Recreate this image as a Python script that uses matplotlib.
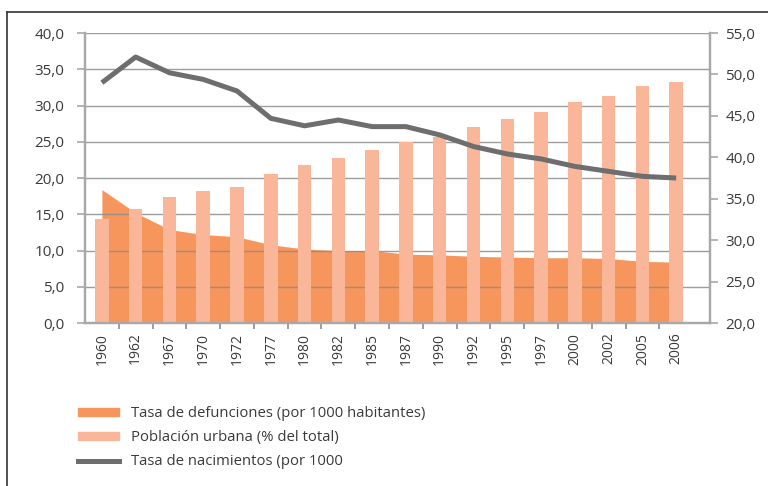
import matplotlib
matplotlib.use("Agg")
import matplotlib.pyplot as plt
from matplotlib.lines import Line2D
from matplotlib.patches import Patch
import numpy as np

plt.rcParams["font.family"] = ["Open Sans", "DejaVu Sans"]

years = ["1960", "1962", "1967", "1970", "1972", "1977", "1980", "1982", "1985",
         "1987", "1990", "1992", "1995", "1997", "2000", "2002", "2005", "2006"]
death_rate = [18.4, 15.2, 12.9, 12.2, 11.9, 10.8, 10.2, 10.0, 10.0,
              9.5, 9.4, 9.2, 9.1, 9.0, 9.0, 8.9, 8.5, 8.4]
urban_pct = [14.4, 15.7, 17.4, 18.2, 18.8, 20.6, 21.8, 22.7, 23.9,
             25.0, 25.7, 27.0, 28.2, 29.1, 30.5, 31.3, 32.7, 33.3]
birth_rate = [49.0, 52.1, 50.2, 49.4, 48.0, 44.7, 43.8, 44.5, 43.7,
              43.7, 42.7, 41.3, 40.4, 39.8, 38.9, 38.3, 37.7, 37.5]

lbl_death = "Tasa de defunciones (por 1000 habitantes)"
lbl_urban = "Población urbana (% del total)"
lbl_birth = "Tasa de nacimientos (por 1000"

c_area = "#F7965C"
c_bar = "#F9B698"
c_line = "#6E6E6E"
c_axis = "#A8A8A8"
c_grid = "#8C8C8C"
c_text = "#3A3A3A"

x = np.arange(len(years))

fig = plt.figure(figsize=(7.68, 4.86), dpi=100)
ax = fig.add_axes([85 / 768, 1 - 323 / 486, (710 - 85) / 768, (323 - 33) / 486])
ax2 = ax.twinx()

ax.fill_between(x, death_rate, 0, color=c_area, linewidth=0, zorder=1)
ax.bar(x, urban_pct, width=0.4, color=c_bar, linewidth=0, zorder=3)
ax.set_ylim(0, 40)
ax.set_xlim(-0.5, len(years))
ax.set_yticks(np.arange(0, 41, 5))
ax.set_yticklabels([f"{v:.1f}".replace(".", ",") for v in np.arange(0, 41, 5)])
ax.grid(axis="y", color=c_grid, linewidth=1.0, alpha=0.85, zorder=4)
ax.set_axisbelow(False)

ax.set_xticks(x)
ax.set_xticklabels(years, rotation=90, fontsize=10, color=c_text)
ax.set_xticks(x[:-1] + 0.5, minor=True)
ax.tick_params(axis="x", which="major", length=0, pad=7)
ax.tick_params(axis="x", which="minor", length=4, color=c_grid, width=1.2)
ax.tick_params(axis="y", length=6, color=c_axis, width=1.2, labelsize=11,
               labelcolor=c_text, pad=9)

ax2.plot(x, birth_rate, color=c_line, linewidth=3.6, solid_capstyle="butt",
         solid_joinstyle="round", zorder=5)
ax2.set_ylim(20, 55)
ax2.set_yticks(np.arange(20, 56, 5))
ax2.set_yticklabels([f"{v:.1f}".replace(".", ",") for v in np.arange(20, 56, 5)])
ax2.tick_params(axis="y", length=6, color=c_axis, width=1.2, labelsize=11,
                labelcolor=c_text, pad=5)
ax2.set_zorder(ax.get_zorder() + 1)
ax2.patch.set_visible(False)

for a in (ax, ax2):
    a.spines["top"].set_visible(False)
    for s in ("left", "right", "bottom"):
        a.spines[s].set_color(c_axis)
        a.spines[s].set_linewidth(1.6)

handles = [Patch(color=c_area), Patch(color=c_bar),
           Line2D([], [], color=c_line, linewidth=3.6)]
fig.legend(handles, [lbl_death, lbl_urban, lbl_birth], loc="upper left",
           bbox_to_anchor=(65 / 768, 1 - 393 / 486), frameon=False,
           fontsize=10.7, handlelength=2.75, handleheight=0.45,
           handletextpad=0.8, labelspacing=0.6, labelcolor=c_text)

# outer frame (top and left)
fig.add_artist(Line2D([7 / 768, 1], [1 - 12 / 486] * 2, color="#333333", linewidth=1.2))
fig.add_artist(Line2D([7 / 768] * 2, [0, 1 - 12 / 486], color="#333333", linewidth=1.2))

fig.savefig("out.png", dpi=100)
